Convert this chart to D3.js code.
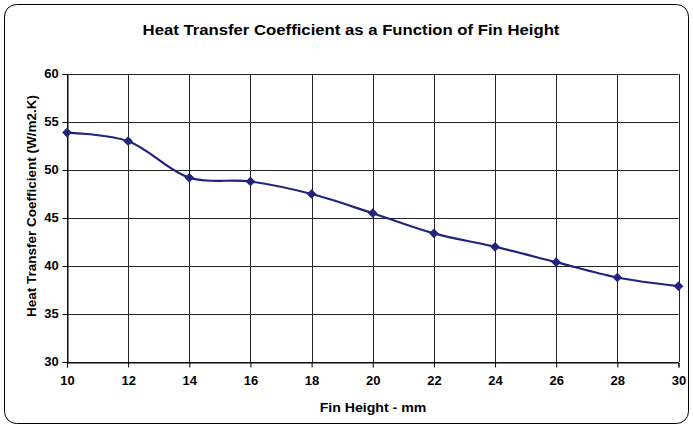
<!DOCTYPE html>
<html>
<head>
<meta charset="utf-8">
<script src="https://cdn.jsdelivr.net/npm/d3@7"></script>
<style>
  body { margin: 0; background: #fff; }
  text { font-family: Arial, "Liberation Sans", sans-serif; font-weight: bold; fill: #000; }
</style>
</head>
<body>
<script>
// fin height (mm) vs heat transfer coefficient (W/m2.K)
const finHeight = [10, 12, 14, 16, 18, 20, 22, 24, 26, 28, 30];
const coefficient = [53.9, 53.0, 49.2, 48.8, 47.5, 45.5, 43.4, 42.0, 40.4, 38.8, 37.9];
const xTicks = [10, 12, 14, 16, 18, 20, 22, 24, 26, 28, 30];
const yTicks = [30, 35, 40, 45, 50, 55, 60];

const width = 693;
const height = 428;
const margin = { top: 74, right: 14, bottom: 66, left: 67 };
const stretch = 1.086; // text in the original is a little wider than plain Arial

const svg = d3.select('body')
  .append('svg')
  .attr('width', width)
  .attr('height', height);

// outer chart border with rounded corners
svg.append('rect')
  .attr('x', 4.5)
  .attr('y', 4.5)
  .attr('width', width - 9)
  .attr('height', height - 9)
  .attr('rx', 12)
  .attr('fill', '#fff')
  .attr('stroke', '#000')
  .attr('stroke-width', 1);

const x = d3.scaleLinear()
  .domain([10, 30])
  .range([margin.left, width - margin.right - 0.5]);

const y = d3.scaleLinear()
  .domain([30, 60])
  .range([height - margin.bottom, margin.top]);

// gridlines
const grid = svg.append('g').attr('stroke', '#222').attr('stroke-width', 1);
grid.selectAll('line.h')
  .data(yTicks)
  .enter()
  .append('line')
  .attr('x1', x(10))
  .attr('x2', x(30))
  .attr('y1', d => Math.round(y(d)) + 0.5)
  .attr('y2', d => Math.round(y(d)) + 0.5);
grid.selectAll('line.v')
  .data(xTicks)
  .enter()
  .append('line')
  .attr('x1', d => Math.round(x(d)) + 0.5)
  .attr('x2', d => Math.round(x(d)) + 0.5)
  .attr('y1', y(60))
  .attr('y2', y(30));

// axes
const xAxis = svg.append('g')
  .attr('transform', `translate(0,${Math.round(y(30)) + 0.5})`)
  .call(d3.axisBottom(x).tickValues(xTicks).tickSize(5).tickPadding(9).tickFormat(d3.format('d')));
const yAxis = svg.append('g')
  .attr('transform', `translate(${Math.round(x(10)) + 0.5},0)`)
  .call(d3.axisLeft(y).tickValues(yTicks).tickSize(5).tickPadding(3).tickFormat(d3.format('d')));

[xAxis, yAxis].forEach(a => {
  a.select('.domain').attr('stroke', '#000');
  a.selectAll('.tick line').attr('stroke', '#000');
  a.selectAll('.tick text')
    .attr('font-size', 12)
    .attr('font-family', 'Arial, "Liberation Sans", sans-serif')
    .attr('font-weight', 'bold')
    .attr('fill', '#000')
    .attr('transform', `scale(${stretch},1)`);
});

// smoothed series line
const line = d3.line()
  .x((d, i) => x(finHeight[i]))
  .y(d => y(d))
  .curve(d3.curveCatmullRom.alpha(0.5));

svg.append('path')
  .datum(coefficient)
  .attr('d', line)
  .attr('fill', 'none')
  .attr('stroke', '#22237a')
  .attr('stroke-width', 2.2);

// diamond markers
svg.selectAll('path.marker')
  .data(coefficient)
  .enter()
  .append('path')
  .attr('class', 'marker')
  .attr('d', d3.symbol().type(d3.symbolDiamond2).size(60))
  .attr('transform', (d, i) => `translate(${x(finHeight[i])},${y(d)})`)
  .attr('fill', '#22237a');

// title and axis labels
svg.append('text')
  .attr('transform', `translate(351,35) scale(${stretch},1)`)
  .attr('text-anchor', 'middle')
  .attr('font-size', 15.4)
  .text('Heat Transfer Coefficient as a Function of Fin Height');

svg.append('text')
  .attr('transform', `translate(373,412) scale(${stretch},1)`)
  .attr('text-anchor', 'middle')
  .attr('font-size', 13)
  .text('Fin Height - mm');

svg.append('text')
  .attr('transform', 'translate(36,206) rotate(-90)')
  .attr('text-anchor', 'middle')
  .attr('font-size', 13.5)
  .text('Heat Transfer Coefficient (W/m2.K)');
</script>
</body>
</html>
